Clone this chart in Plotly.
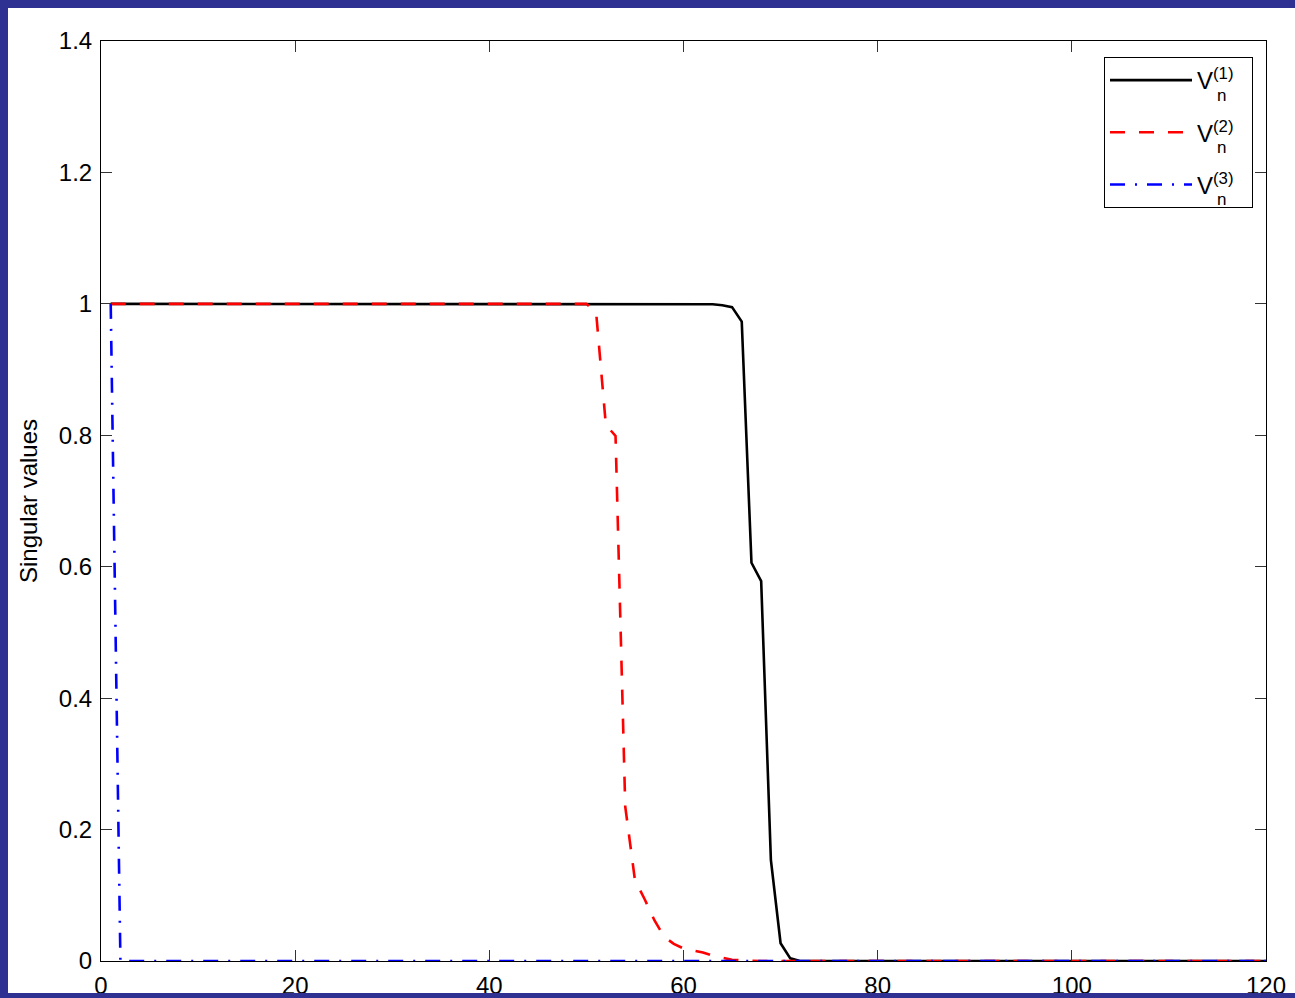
import plotly.graph_objects as go

n_index = list(range(1, 121))

v1 = [
    1.0, 1.0, 1.0, 1.0, 1.0, 1.0, 1.0, 1.0, 1.0, 1.0,
    1.0, 1.0, 1.0, 1.0, 1.0, 1.0, 1.0, 1.0, 1.0, 1.0,
    1.0, 1.0, 1.0, 1.0, 1.0, 1.0, 1.0, 1.0, 1.0, 1.0,
    1.0, 1.0, 1.0, 1.0, 1.0, 1.0, 1.0, 1.0, 1.0, 1.0,
    1.0, 1.0, 1.0, 1.0, 1.0, 1.0, 1.0, 1.0, 1.0, 1.0,
    1.0, 1.0, 1.0, 1.0, 1.0, 1.0, 1.0, 1.0, 1.0, 1.0,
    1.0, 1.0, 0.9995, 0.998, 0.995, 0.973, 0.606, 0.578, 0.154, 0.027,
    0.004, 0.0, 0.0, 0.0, 0.0, 0.0, 0.0, 0.0, 0.0, 0.0,
    0.0, 0.0, 0.0, 0.0, 0.0, 0.0, 0.0, 0.0, 0.0, 0.0,
    0.0, 0.0, 0.0, 0.0, 0.0, 0.0, 0.0, 0.0, 0.0, 0.0,
    0.0, 0.0, 0.0, 0.0, 0.0, 0.0, 0.0, 0.0, 0.0, 0.0,
    0.0, 0.0, 0.0, 0.0, 0.0, 0.0, 0.0, 0.0, 0.0, 0.0,
]

v2 = [
    1.0, 1.0, 1.0, 1.0, 1.0, 1.0, 1.0, 1.0, 1.0, 1.0,
    1.0, 1.0, 1.0, 1.0, 1.0, 1.0, 1.0, 1.0, 1.0, 1.0,
    1.0, 1.0, 1.0, 1.0, 1.0, 1.0, 1.0, 1.0, 1.0, 1.0,
    1.0, 1.0, 1.0, 1.0, 1.0, 1.0, 1.0, 1.0, 1.0, 1.0,
    1.0, 1.0, 1.0, 1.0, 1.0, 1.0, 1.0, 1.0, 1.0, 1.0,
    0.987, 0.816, 0.799, 0.235, 0.123, 0.094, 0.062, 0.037, 0.026, 0.019,
    0.016, 0.013, 0.008, 0.005, 0.002, 0.001, 0.0, 0.0, 0.0, 0.0,
    0.0, 0.0, 0.0, 0.0, 0.0, 0.0, 0.0, 0.0, 0.0, 0.0,
    0.0, 0.0, 0.0, 0.0, 0.0, 0.0, 0.0, 0.0, 0.0, 0.0,
    0.0, 0.0, 0.0, 0.0, 0.0, 0.0, 0.0, 0.0, 0.0, 0.0,
    0.0, 0.0, 0.0, 0.0, 0.0, 0.0, 0.0, 0.0, 0.0, 0.0,
    0.0, 0.0, 0.0, 0.0, 0.0, 0.0, 0.0, 0.0, 0.0, 0.0,
]

v3 = [
    1.0, 0.0, 0.0, 0.0, 0.0, 0.0, 0.0, 0.0, 0.0, 0.0,
    0.0, 0.0, 0.0, 0.0, 0.0, 0.0, 0.0, 0.0, 0.0, 0.0,
    0.0, 0.0, 0.0, 0.0, 0.0, 0.0, 0.0, 0.0, 0.0, 0.0,
    0.0, 0.0, 0.0, 0.0, 0.0, 0.0, 0.0, 0.0, 0.0, 0.0,
    0.0, 0.0, 0.0, 0.0, 0.0, 0.0, 0.0, 0.0, 0.0, 0.0,
    0.0, 0.0, 0.0, 0.0, 0.0, 0.0, 0.0, 0.0, 0.0, 0.0,
    0.0, 0.0, 0.0, 0.0, 0.0, 0.0, 0.0, 0.0, 0.0, 0.0,
    0.0, 0.0, 0.0, 0.0, 0.0, 0.0, 0.0, 0.0, 0.0, 0.0,
    0.0, 0.0, 0.0, 0.0, 0.0, 0.0, 0.0, 0.0, 0.0, 0.0,
    0.0, 0.0, 0.0, 0.0, 0.0, 0.0, 0.0, 0.0, 0.0, 0.0,
    0.0, 0.0, 0.0, 0.0, 0.0, 0.0, 0.0, 0.0, 0.0, 0.0,
    0.0, 0.0, 0.0, 0.0, 0.0, 0.0, 0.0, 0.0, 0.0, 0.0,
]

series_names = ["V<sup>(1)</sup>", "V<sup>(2)</sup>", "V<sup>(3)</sup>"]
series_sub = ["n", "n", "n"]
x_ticks = [0, 20, 40, 60, 80, 100, 120]
y_ticks = [0, 0.2, 0.4, 0.6, 0.8, 1.0, 1.2, 1.4]
y_tick_text = ["0", "0.2", "0.4", "0.6", "0.8", "1", "1.2", "1.4"]

FONT = "Liberation Sans, Arial, Helvetica, sans-serif"
BORDER = "#2E3192"
PAD = "&nbsp;" * 2

fig = go.Figure()
fig.add_trace(go.Scatter(x=n_index, y=v1, mode="lines", name=series_names[0] + PAD, legendgroup="a",
                         line=dict(color="black", width=2.6)))
fig.add_trace(go.Scatter(x=n_index, y=v2, mode="lines", name=series_names[1] + PAD, legendgroup="b",
                         line=dict(color="#FF0000", width=2.6, dash="15px,14px")))
fig.add_trace(go.Scatter(x=n_index, y=v3, mode="lines", name=series_names[2] + PAD, legendgroup="c",
                         line=dict(color="#0000FF", width=2.6, dash="15px,10px,2px,10px")))

W, H = 1295, 998
L, R, T, B = 101, 29, 41, 37
pw, ph = W - L - R, H - T - B


def px_x(p):
    return (p - L) / pw


def px_y(p):
    return (H - B - p) / ph


annotations = []
for i, s in enumerate(series_sub):
    annotations.append(dict(
        text=s, xref="paper", yref="paper", x=px_x(1221), y=px_y(95 + 52 * i),
        xanchor="center", yanchor="middle", showarrow=False,
        font=dict(family=FONT, size=17, color="black"),
    ))

fig.update_layout(
    width=W, height=H, autosize=False,
    margin=dict(l=L, r=R, t=T, b=B, pad=0, autoexpand=False),
    paper_bgcolor="white",
    plot_bgcolor="white",
    font=dict(family=FONT, size=24, color="black"),
    showlegend=True,
    legend=dict(
        x=px_x(1253), y=px_y(57), xanchor="right", yanchor="top",
        bgcolor="white", bordercolor="black", borderwidth=1,
        font=dict(family=FONT, size=24, color="black"),
        itemwidth=82, tracegroupgap=18,
    ),
    xaxis=dict(
        range=[0, 120], tickmode="array", tickvals=x_ticks, automargin=False,
        ticks="inside", ticklen=11, tickwidth=1, tickcolor="#333",
        showline=True, linecolor="black", linewidth=1, mirror="allticks",
        showgrid=False, zeroline=False, ticklabelstandoff=3,
        tickfont=dict(family=FONT, size=24, color="black"),
    ),
    yaxis=dict(
        range=[0, 1.4], tickmode="array", tickvals=y_ticks, ticktext=y_tick_text, automargin=False,
        ticks="inside", ticklen=11, tickwidth=1, tickcolor="#333",
        showline=True, linecolor="black", linewidth=1, mirror="allticks",
        showgrid=False, zeroline=False, ticklabelstandoff=3,
        tickfont=dict(family=FONT, size=24, color="black"),
        title=dict(text="Singular values", font=dict(family=FONT, size=24, color="black"), standoff=14),
    ),
    annotations=annotations,
    shapes=[
        dict(type="rect", xref="paper", yref="paper", layer="above",
             x0=px_x(-5), x1=px_x(W + 5), y0=px_y(8), y1=px_y(-5),
             fillcolor=BORDER, line=dict(width=0)),
        dict(type="rect", xref="paper", yref="paper", layer="above",
             x0=px_x(-5), x1=px_x(8), y0=px_y(H + 5), y1=px_y(-5),
             fillcolor=BORDER, line=dict(width=0)),
        dict(type="rect", xref="paper", yref="paper", layer="above",
             x0=px_x(-5), x1=px_x(W + 5), y0=px_y(H + 5), y1=px_y(993),
             fillcolor=BORDER, line=dict(width=0)),
    ],
)

page_fix = (
    "var de=document.documentElement, bd=document.body;"
    "de.style.margin='0'; de.style.padding='0'; de.style.overflow='hidden';"
    "bd.style.margin='0'; bd.style.padding='0'; bd.style.overflow='hidden';"
)

fig.write_html(
    "out.html",
    config={"responsive": False, "displayModeBar": False},
    post_script=page_fix,
)
